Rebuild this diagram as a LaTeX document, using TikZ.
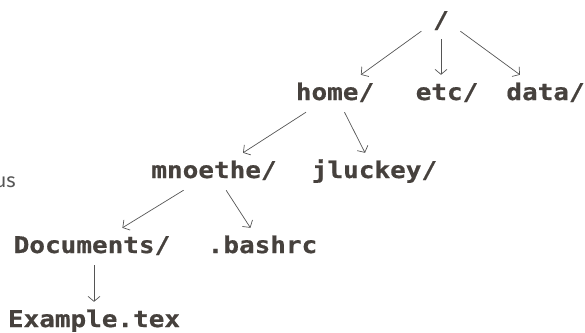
\documentclass[tikz,border=0pt]{standalone}
\usepackage{fontspec}
\usetikzlibrary{arrows.meta}
\newfontfamily\treemono[FakeStretch=1.13, BoldFeatures={FakeBold=0.6}]{DejaVu Sans Mono}
\newfontfamily\sidesans{Fira Sans}
\definecolor{textc}{HTML}{46413D}
\definecolor{arrc}{HTML}{555555}
\definecolor{sidec}{HTML}{555555}
\tikzset{
  lbl/.style={font=\treemono\bfseries\fontsize{23bp}{27bp}\selectfont, text=textc,
    inner sep=0pt, text height=25bp, text depth=12bp, anchor=base},
  rootlbl/.style={lbl, text depth=3bp, minimum width=40bp},
  arr/.style={draw=arrc, line width=0.7bp, -{Straight Barb[length=5bp,width=12bp]}},
}
\begin{document}
\begin{tikzpicture}[x=1bp,y=-1bp]
\useasboundingbox (0,0) rectangle (585,332);
\node[rootlbl] (root) at (441,28) {/};
\node[lbl] (home) at (335,100) {home/};
\node[lbl] (etc) at (447,100) {etc/};
\node[lbl] (data) at (545.5,100) {data/};
\node[lbl] (mnoethe) at (214,178) {mnoethe/};
\node[lbl] (jluckey) at (374.5,178) {jluckey/};
\node[lbl] (docs) at (92,253) {Documents/};
\node[lbl] (bashrc) at (262.5,253) {.bashrc};
\node[lbl] (example) at (94,327) {Example.tex};
\node[font=\sidesans\fontsize{20bp}{24bp}\selectfont, text=sidec, inner sep=0pt, anchor=base east] (side) at (16,187) {us};
\draw[arr] (root) -- (home);
\draw[arr, shorten <=8bp] (root.south) -- (root.south |- etc.north);
\draw[arr] (root) -- (data);
\draw[arr] (home) -- (mnoethe);
\draw[arr] (home) -- (jluckey);
\draw[arr] (mnoethe) -- (docs);
\draw[arr] (mnoethe) -- (bashrc);
\draw[arr] ([xshift=2bp]docs.south) -- ([xshift=2bp]docs.south |- example.north);
\end{tikzpicture}
\end{document}
